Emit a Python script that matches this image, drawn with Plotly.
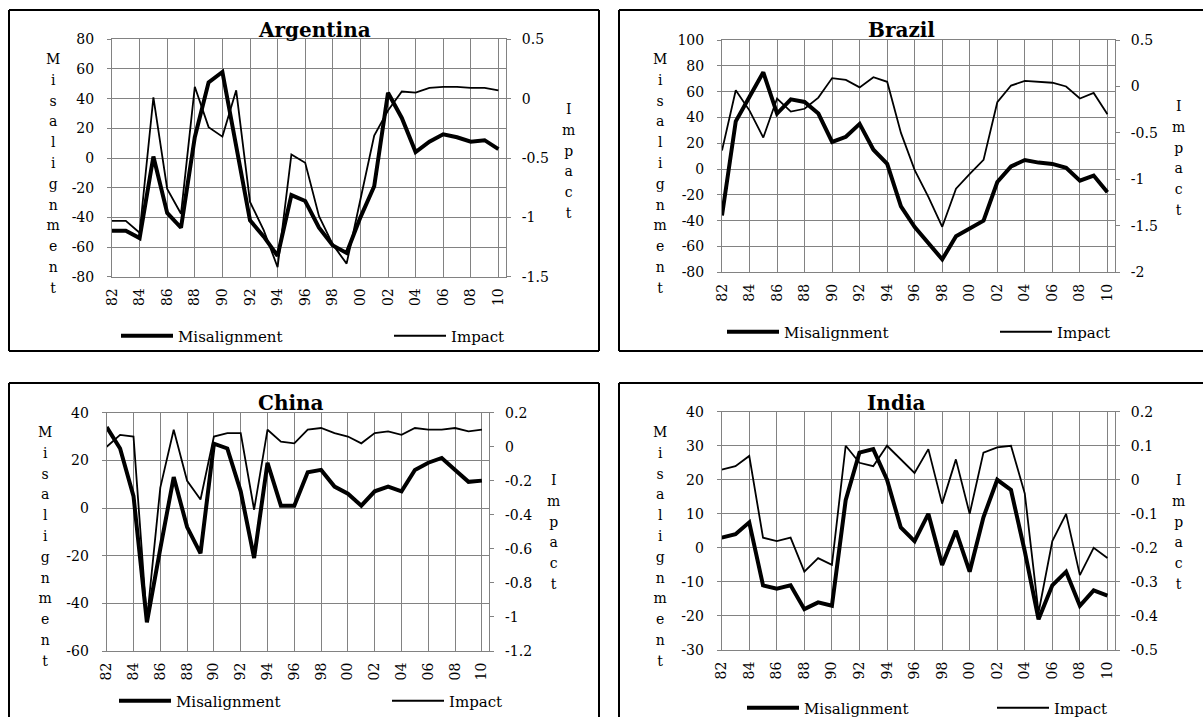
import plotly.graph_objects as go

W, H = 1203, 717

# ---------------- data ----------------
years = [1982, 1983, 1984, 1985, 1986, 1987, 1988, 1989, 1990, 1991,
         1992, 1993, 1994, 1995, 1996, 1997, 1998, 1999, 2000, 2001,
         2002, 2003, 2004, 2005, 2006, 2007, 2008, 2009, 2010]
xtick_vals = [1982, 1984, 1986, 1988, 1990, 1992, 1994, 1996, 1998, 2000,
              2002, 2004, 2006, 2008, 2010]
xtick_text = ['82', '84', '86', '88', '90', '92', '94', '96', '98', '00',
              '02', '04', '06', '08', '10']

argentina_mis = [-49, -49, -54, 1, -37, -47, 14, 51, 58, 9,
                 -42, -53, -66, -25, -29, -47, -59, -64, -40, -19,
                 44, 27, 4, 11, 16, 14, 11, 12, 6]
argentina_imp = [-1.03, -1.03, -1.13, 0.01, -0.76, -0.97, 0.10, -0.24, -0.32, 0.07,
                 -0.87, -1.11, -1.42, -0.47, -0.54, -0.99, -1.23, -1.39, -0.85, -0.31,
                 -0.10, 0.06, 0.05, 0.09, 0.10, 0.10, 0.09, 0.09, 0.07]

brazil_mis = [-36, 37, 56, 75, 43, 54, 52, 43, 21, 25,
              35, 15, 4, -29, -45, -57, -70, -52, -46, -40,
              -10, 2, 7, 5, 4, 1, -9, -5, -18]
brazil_imp = [-0.69, -0.04, -0.26, -0.55, -0.13, -0.27, -0.24, -0.12, 0.09, 0.07,
              -0.01, 0.10, 0.05, -0.50, -0.90, -1.19, -1.51, -1.10, -0.94, -0.79,
              -0.17, 0.01, 0.06, 0.05, 0.04, 0.0, -0.13, -0.07, -0.30]

china_mis = [34, 25, 5, -48, -17, 13, -8, -19, 27, 25,
             7, -21, 19, 1, 1, 15, 16, 9, 6, 1,
             7, 9, 7, 16, 19, 21, 16, 11, 11.5]
china_imp = [0.0, 0.07, 0.06, -1.02, -0.24, 0.10, -0.20, -0.31, 0.06, 0.08,
             0.08, -0.37, 0.10, 0.03, 0.02, 0.10, 0.11, 0.08, 0.06, 0.02,
             0.08, 0.09, 0.07, 0.11, 0.10, 0.10, 0.11, 0.09, 0.10]

india_mis = [3, 4, 7.5, -11, -12, -11, -18, -16, -17, 14,
             28, 29, 20, 6, 2, 10, -5, 5, -7, 9,
             20, 17, -1, -21, -11, -7, -17, -12.5, -14]
india_imp = [0.03, 0.04, 0.07, -0.17, -0.18, -0.17, -0.27, -0.23, -0.25, 0.10,
             0.05, 0.04, 0.10, 0.06, 0.02, 0.09, -0.07, 0.06, -0.10, 0.08,
             0.095, 0.10, -0.04, -0.39, -0.18, -0.10, -0.28, -0.20, -0.23]

countries = ['Argentina', 'Brazil', 'China', 'India']
mis_series = [argentina_mis, brazil_mis, china_mis, india_mis]
imp_series = [argentina_imp, brazil_imp, china_imp, india_imp]

left_ticks = [
    [-80, -60, -40, -20, 0, 20, 40, 60, 80],
    [-80, -60, -40, -20, 0, 20, 40, 60, 80, 100],
    [-60, -40, -20, 0, 20, 40],
    [-30, -20, -10, 0, 10, 20, 30, 40],
]
right_ticks = [
    [-1.5, -1, -0.5, 0, 0.5],
    [-2, -1.5, -1, -0.5, 0, 0.5],
    [-1.2, -1, -0.8, -0.6, -0.4, -0.2, 0, 0.2],
    [-0.5, -0.4, -0.3, -0.2, -0.1, 0, 0.1, 0.2],
]

# ---------------- layout geometry (window pixels) ----------------
FONT = 'DejaVu Serif'
GRID = '#828282'
OX, OY = 0, 0          # page margin removed by post_script below
# plot area: left, right, top, bottom
plot_px = [(112, 506, 39.3, 276.7), (722, 1115, 40, 272.3),
           (106.7, 489.3, 412.7, 651), (721.7, 1115, 411.7, 650)]
# panel frames: left, right, top, bottom and which sides are visible (l, t, r, b)
box_px = [(9, 599, 10, 351, (1, 1, 1, 1)), (619, 1203, 10, 351, (1, 1, 0, 1)),
          (9, 599, 383, 717, (1, 1, 1, 0)), (619, 1203, 383, 717, (1, 1, 0, 0))]
title_px = [(314, 30), (901, 30), (291, 403), (896, 403)]
lab_left_px = [(53, 174), (660, 174), (45, 546), (660, 546)]
lab_right_px = [(568, 161), (1178, 158), (553, 532), (1178, 532)]
legend_px = [(116, 336), (722, 332), (114, 701), (742, 708)]
legend_gap = [206, 206, 206, 183]
XMAX = 2010.55


def px(x):
    return (x - OX) / W


def py(y):
    return 1 - (y - OY) / H


def fmt(v):
    return f"{v:g}"


fig = go.Figure()
layout = dict(width=W, height=H, margin=dict(l=0, r=0, t=0, b=0, autoexpand=False),
              autosize=False, paper_bgcolor='white', plot_bgcolor='white',
              font=dict(family=FONT, size=14, color='black'),
              showlegend=True)
shapes = []
annotations = []

for i in range(4):
    n = i + 1
    xa = 'x' if n == 1 else f'x{n}'
    ya = 'y' if n == 1 else f'y{n}'
    yr = f'y{n + 4}'
    lg = 'legend' if n == 1 else f'legend{n}'
    L, R, T, B = plot_px[i]
    xdom = [px(L), px(R)]
    ydom = [py(B), py(T)]
    lt = left_ticks[i]
    rt = right_ticks[i]

    fig.add_trace(go.Scatter(x=years, y=mis_series[i], mode='lines',
                             name='Misalignment', xaxis=xa, yaxis=ya,
                             line=dict(color='black', width=4), legend=lg))
    fig.add_trace(go.Scatter(x=years, y=imp_series[i], mode='lines',
                             name='Impact', xaxis=xa, yaxis=yr,
                             line=dict(color='black', width=1.8), legend=lg))

    axkey = 'xaxis' if n == 1 else f'xaxis{n}'
    layout[axkey] = dict(domain=xdom, anchor=ya, range=[years[0], XMAX],
                         tickmode='array', tickvals=xtick_vals, ticktext=xtick_text,
                         tickangle=-90, showgrid=True, gridcolor=GRID, gridwidth=1,
                         showline=True, linecolor=GRID, linewidth=1, mirror=True,
                         ticks='', zeroline=False, tickfont=dict(size=14, family=FONT),
                         ticklabelstandoff=5)
    ykey = 'yaxis' if n == 1 else f'yaxis{n}'
    layout[ykey] = dict(domain=ydom, anchor=xa, range=[lt[0], lt[-1]],
                        tickmode='array', tickvals=lt, ticktext=[fmt(v) for v in lt],
                        showgrid=True, gridcolor=GRID, gridwidth=1,
                        showline=True, linecolor=GRID, linewidth=1,
                        ticks='outside', ticklen=4, tickcolor=GRID,
                        zeroline=False, tickfont=dict(size=14, family=FONT),
                        ticklabelstandoff=10)
    layout[f'yaxis{n + 4}'] = dict(domain=ydom, anchor=xa, overlaying=ya, side='right',
                                   range=[rt[0], rt[-1]], tickmode='array', tickvals=rt,
                                   ticktext=[fmt(v) for v in rt], showgrid=False,
                                   showline=True, linecolor=GRID, linewidth=1,
                                   ticks='outside', ticklen=4, tickcolor=GRID,
                                   zeroline=False, tickfont=dict(size=14, family=FONT),
                                   ticklabelstandoff=8)
    # zero line of the left axis, with tick marks (category axis crossing at 0)
    zpos = ydom[0] + (0 - lt[0]) / (lt[-1] - lt[0]) * (ydom[1] - ydom[0])
    layout[f'xaxis{n + 4}'] = dict(overlaying=xa, anchor='free', position=zpos,
                                   range=[years[0], XMAX], tickmode='array',
                                   tickvals=xtick_vals, showticklabels=False,
                                   ticks='outside', ticklen=5, tickwidth=1.5,
                                   tickcolor='black', showline=True, linecolor='black',
                                   linewidth=1.6, showgrid=False, zeroline=False)
    # legend
    lx, ly = legend_px[i]
    layout[lg] = dict(orientation='h', x=px(lx), y=py(ly), xref='container',
                      yref='container', xanchor='left',
                      yanchor='middle', bgcolor='rgba(0,0,0,0)', borderwidth=0,
                      font=dict(family=FONT, size=15, color='black'),
                      itemwidth=52, entrywidth=legend_gap[i], entrywidthmode='pixels',
                      traceorder='normal')
    # panel frame (sides cut by the window edge are left open)
    bl, br, bt, bb, sides = box_px[i]
    segs = [((bl, bb), (bl, bt)), ((bl, bt), (br, bt)),
            ((br, bt), (br, bb)), ((br, bb), (bl, bb))]
    for on, ((xa0, ya0), (xa1, ya1)) in zip(sides, segs):
        if on:
            shapes.append(dict(type='line', xref='paper', yref='paper',
                               x0=px(xa0), y0=py(ya0), x1=px(xa1), y1=py(ya1),
                               line=dict(color='black', width=2), layer='below'))
    # title
    tx, ty = title_px[i]
    annotations.append(dict(text=f'<b>{countries[i]}</b>', xref='paper', yref='paper',
                            x=px(tx), y=py(ty), xanchor='center', yanchor='middle',
                            showarrow=False, font=dict(family=FONT, size=20, color='black')))
    # stacked axis titles
    for (axx, axy), word in ((lab_left_px[i], 'Misalignment'), (lab_right_px[i], 'Impact')):
        txt = '<br>'.join(f'<span style="font-size:14px">{ch}</span>' for ch in word)
        annotations.append(dict(text=txt, xref='paper', yref='paper',
                                x=px(axx), y=py(axy), xanchor='center', yanchor='middle',
                                align='center', showarrow=False,
                                font=dict(family=FONT, size=16, color='black')))

layout['shapes'] = shapes
layout['annotations'] = annotations
fig.update_layout(**layout)
fig.write_html('out.html', config={'displayModeBar': False},
               post_script="document.body.style.margin='0';"
                           "document.body.style.overflow='hidden';")
